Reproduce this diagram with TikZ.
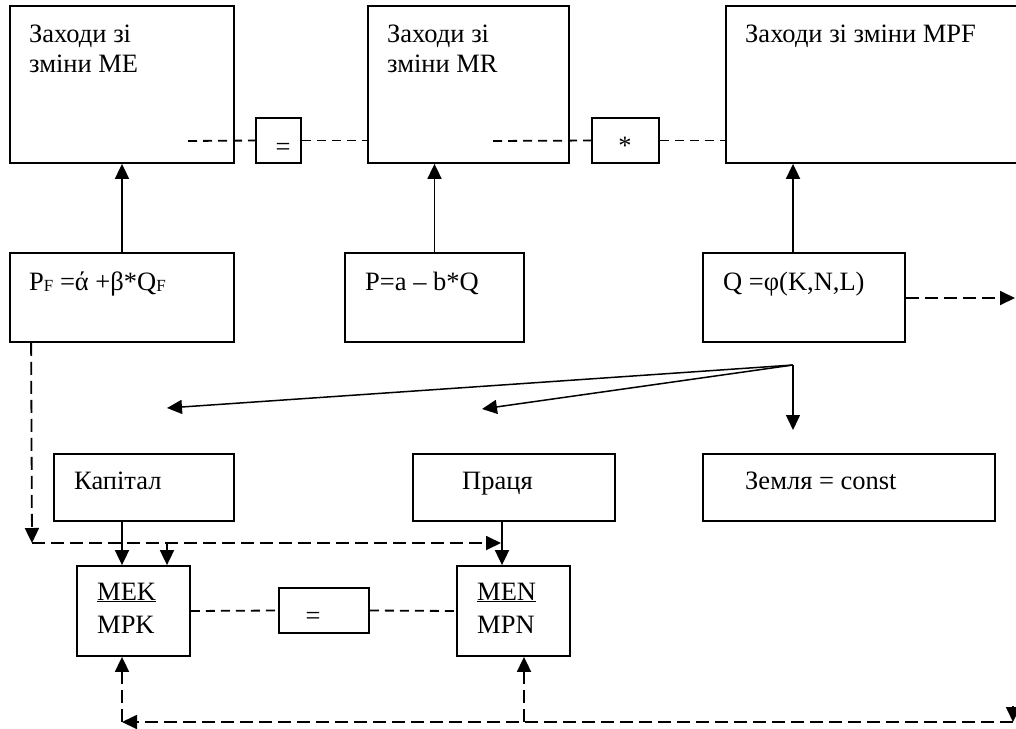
\documentclass[tikz,border=0pt]{standalone}
\usepackage{fontspec}
\setmainfont{Liberation Serif}
\usetikzlibrary{arrows.meta,calc}
\newcommand\dfont{\fontsize{26.5}{30}\selectfont}
\newcommand\sbfont{\fontsize{17}{17}\selectfont}
\newcommand\subF{\raisebox{-1.5pt}{\sbfont F}}
\tikzset{
  bx/.style 2 args={draw, line width=1.8pt, inner sep=0pt, minimum width=#1, minimum height=#2},
  txt/.style={anchor=base west, inner sep=0pt, font=\dfont},
  ctxt/.style={anchor=base, inner sep=0pt, font=\dfont},
  arr/.style={line width=1.8pt, -{Triangle[length=15pt,width=14pt]}},
  sdash/.style={line width=1.8pt, dash pattern=on 9pt off 6pt},
  ldash/.style={line width=1.8pt, dash pattern=on 13pt off 6pt},
}
\begin{document}
\begin{tikzpicture}[x=1pt,y=-1pt]
\useasboundingbox[fill=white] (0,0) rectangle (1016,728);
% top row
\node[bx={224}{157}] (me) at (122,84.5) {};
\node[bx={201}{157}] (mr) at (468.5,84.5) {};
\node[bx={304}{157}] (mpf) at (878,84.5) {};
\node[bx={45}{45}] (eq1) at (278.5,140.5) {};
\node[bx={67}{45}] (star) at (625.5,140.5) {};
\node[txt] (tme1) at (29,42) {Заходи зі};
\node[txt] (tme2) at (29,72) {зміни ME};
\node[txt] (tmr1) at (387,42) {Заходи зі};
\node[txt] (tmr2) at (387,72) {зміни MR};
\node[txt] (tmpf) at (745,42) {Заходи зі зміни MPF};
\node[ctxt] (teq1) at (283,155) {=};
\node[ctxt] (tstar) at (625,154) {*};
% second row
\node[bx={224}{89}] (pf) at (122,297.5) {};
\node[bx={179}{89}] (p) at (434.5,297.5) {};
\node[bx={202}{89}] (q) at (804,297.5) {};
\node[txt] (tpf) at (29,290) {P\subF{} =ά +β*Q\subF};
\node[txt] (tp) at (365,290) {P=a – b*Q};
\node[txt] (tq) at (723,290) {Q =φ(K,N,L)};
% third row
\node[bx={180}{67}] (kap) at (144,487.5) {};
\node[bx={202}{67}] (pra) at (514,487.5) {};
\node[bx={292}{67}] (zem) at (849,487.5) {};
\node[txt] (tkap) at (74,489) {Капітал};
\node[txt] (tpra) at (462,489) {Праця};
\node[txt] (tzem) at (745,489) {Земля = const};
% fourth row
\node[bx={113}{90}] (mek) at (133.5,611) {};
\node[bx={90}{45}] (eq2) at (324,610.5) {};
\node[bx={113}{90}] (men) at (513.5,611) {};
\node[txt] (tmek1) at (97,600) {\underline{MEK}};
\node[txt] (tmek2) at (97,633) {MPK};
\node[txt] (tmen1) at (477,600) {\underline{MEN}};
\node[txt] (tmen2) at (477,633) {MPN};
\node[ctxt] (teq2) at (313,624) {=};
% coordinates
\coordinate (d1) at (188,141);
\coordinate (d2) at (493,141);
\coordinate (qr) at (1015,298);
\coordinate (fan) at (793,365);
\coordinate (f1) at (167,408);
\coordinate (f2) at (482,409);
\coordinate (f3) at (793,430);
\coordinate (c1) at (32,543);
\coordinate (c2) at (501,543);
\coordinate (c3) at (167,543);
\coordinate (b1) at (122,722);
\coordinate (b2) at (524,722);
\coordinate (b3) at (1013,722);
\coordinate (b4) at (1013,706);
% dashed links top
\draw[sdash] (d1) -- (eq1.west);
\draw[sdash] (eq1.east) -- (eq1.east -| mr.west);
\draw[sdash] (d2) -- (star.west);
\draw[sdash] (star.east) -- (star.east -| mpf.west);
% up arrows
\draw[arr] (pf.north) -- (pf.north |- me.south);
\draw[arr] (p.north) -- (p.north |- mr.south);
\draw[arr] ([xshift=-11pt]q.north) -- ([xshift=-11pt]q.north |- mpf.south);
% Q dashed right
\draw[arr, ldash] (q.east |- qr) -- (qr);
% fan
\draw[arr, line width=1.5pt] (fan) -- (f1);
\draw[arr, line width=1.5pt] (fan) -- (f2);
\draw[arr, line width=1.5pt] (fan) -- (f3);
% PF dashed feed
\draw[arr, ldash] ([xshift=22pt]pf.south west) -- (c1);
\draw[arr, ldash] (c1) -- (c2);
\draw[arr] (c3) -- (c3 |- mek.north);
% factor arrows down
\draw[arr] ([xshift=-22pt]kap.south) -- ([xshift=-22pt]kap.south |- mek.north);
\draw[arr] ([xshift=-12pt]pra.south) -- ([xshift=-12pt]pra.south |- men.north);
% bottom row links
\draw[sdash] (mek.east) -- (eq2.west);
\draw[sdash] (eq2.east) -- (men.west);
\draw[arr, ldash] (b3) -- (b1);
\draw[arr, ldash] (b1) -- (b1 |- mek.south);
\draw[arr, ldash] (b2) -- (b2 |- men.south);
\draw[arr] (b4) -- (b3);
\end{tikzpicture}
\end{document}
